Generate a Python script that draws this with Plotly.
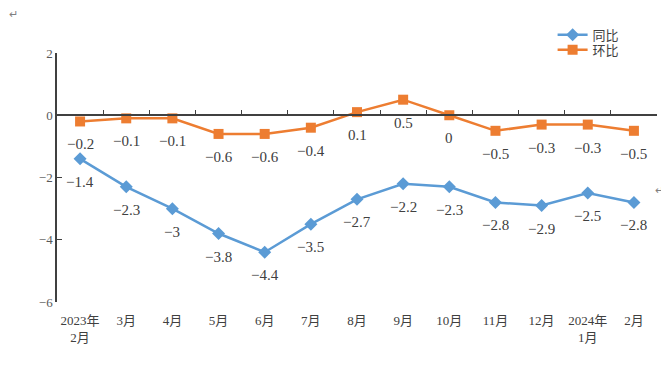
import plotly.graph_objects as go

categories = ["2023年<br>2月", "3月", "4月", "5月", "6月", "7月", "8月", "9月",
              "10月", "11月", "12月", "2024年<br>1月", "2月"]
yoy = [-1.4, -2.3, -3, -3.8, -4.4, -3.5, -2.7, -2.2, -2.3, -2.8, -2.9, -2.5, -2.8]
mom = [-0.2, -0.1, -0.1, -0.6, -0.6, -0.4, 0.1, 0.5, 0, -0.5, -0.3, -0.3, -0.5]
y_ticks = [2, 0, -2, -4, -6]

BLUE = "#5B9BD5"
ORANGE = "#ED7D31"
AXIS = "#404040"
FONT = "Liberation Serif, Noto Sans CJK SC, serif"

xs = list(range(len(categories)))


def fmt(v):
    return f"{v:g}".replace("-", "\u2212")


fig = go.Figure()
fig.add_trace(go.Scatter(
    x=xs, y=yoy, name="同比", mode="lines+markers",
    line=dict(color=BLUE, width=2.5),
    marker=dict(symbol="diamond", size=10, color=BLUE),
    xaxis="x", yaxis="y", legend="legend",
))
fig.add_trace(go.Scatter(
    x=xs, y=mom, name="环比", mode="lines+markers",
    line=dict(color=ORANGE, width=2.5),
    marker=dict(symbol="square", size=10, color=ORANGE),
    xaxis="x2", yaxis="y", legend="legend2",
))

annotations = []
for series in (yoy, mom):
    for x, v in zip(xs, series):
        annotations.append(dict(
            x=x, y=v, xref="x", yref="y", text=fmt(v), showarrow=False,
            yshift=-23, font=dict(family=FONT, size=15, color="#404040"),
        ))
# Word paragraph marks
annotations.append(dict(x=-0.072, y=1.155, xref="paper", yref="paper", text="\u21b5",
                        xanchor="center", yanchor="middle",
                        showarrow=False, font=dict(size=11, color="#808080")))
annotations.append(dict(x=1.005, y=0.45, xref="paper", yref="paper", text="\u21b5",
                        xanchor="center", yanchor="middle",
                        showarrow=False, font=dict(size=11, color="#808080")))

legend_common = dict(xanchor="left", yanchor="middle",
                     font=dict(family=FONT, size=13, color="#404040"),
                     bgcolor="rgba(0,0,0,0)", itemwidth=30)

fig.update_layout(
    width=661, height=357,
    margin=dict(l=49, r=12, t=45, b=63, autoexpand=False),
    paper_bgcolor="white", plot_bgcolor="white",
    font=dict(family=FONT, color="#404040"),
    showlegend=True,
    legend=dict(x=0.826, y=1.073, **legend_common),
    legend2=dict(x=0.826, y=1.013, **legend_common),
    xaxis=dict(
        range=[-0.5, 12.5], tickmode="array", tickvals=xs, ticktext=categories,
        showline=False, showgrid=False, zeroline=False, ticks="",
        tickfont=dict(family=FONT, size=13, color="#404040"),
        ticklabelstandoff=9,
    ),
    xaxis2=dict(
        overlaying="x", anchor="free", position=0.75,
        range=[-0.5, 12.5], tickmode="array",
        tickvals=[i + 0.5 for i in xs],
        showticklabels=False, ticks="inside", ticklen=5, tickwidth=1.2,
        tickcolor=AXIS, showline=True, linecolor=AXIS, linewidth=1.5,
        showgrid=False, zeroline=False,
    ),
    yaxis=dict(
        range=[-6, 2], tickmode="array", tickvals=y_ticks,
        ticks="inside", ticklen=5, tickwidth=1.2, tickcolor=AXIS,
        showline=True, linecolor=AXIS, linewidth=1.5,
        showgrid=False, zeroline=False,
        tickfont=dict(family=FONT, size=13, color="#595959"),
    ),
    annotations=annotations,
)

fig.write_html("out.html")
